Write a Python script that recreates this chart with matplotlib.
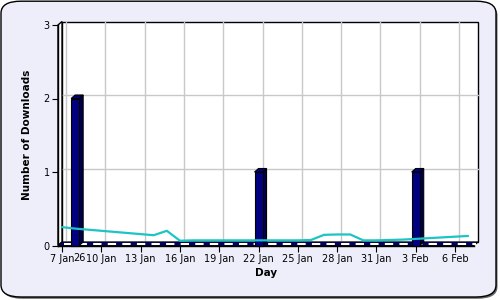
import numpy as np
import matplotlib
matplotlib.use("Agg")
import matplotlib.pyplot as plt
from matplotlib.patches import FancyBboxPatch, Polygon, Rectangle

# data (day numbers: Jan = 1..31, Feb = 32..)
bar_days = [8, 22, 34]
bar_counts = [2, 1, 1]

trend_days = list(range(7, 39))
trend_vals = [0.25, 0.23, 0.215, 0.2, 0.185, 0.17, 0.155, 0.14, 0.2, 0.065,
              0.07, 0.07, 0.07, 0.07, 0.07, 0.07, 0.07, 0.07, 0.07, 0.075,
              0.145, 0.15, 0.15, 0.07, 0.07, 0.075, 0.08, 0.09, 0.1, 0.11,
              0.12, 0.13]

tick_days = [7, 10, 13, 16, 19, 22, 25, 28, 31, 34, 37]
tick_labels = ["7 Jan", "10 Jan", "13 Jan", "16 Jan", "19 Jan", "22 Jan",
               "25 Jan", "28 Jan", "31 Jan", "3 Feb", "6 Feb"]
extra_day = 8.3
extra_label = "26"

navy = "#000080"
teal = "#1EC4C4"
bg = "#EEEEFB"

fig = plt.figure(figsize=(5, 3), dpi=100)
fig.patch.set_facecolor("white")

# rounded panel with shadow
shadow = FancyBboxPatch((0.005, 0.004), 0.99, 0.985, boxstyle="round,pad=0,rounding_size=0.04",
                        transform=fig.transFigure, facecolor="#666666", edgecolor="none", zorder=-2)
panel = FancyBboxPatch((0.002, 0.01), 0.99, 0.986, boxstyle="round,pad=0,rounding_size=0.04",
                       transform=fig.transFigure, facecolor=bg, edgecolor="black", lw=1, zorder=-1)
fig.patches.extend([shadow, panel])

ax = fig.add_axes([58 / 500, (300 - 245.5) / 300, (474 - 58) / 500, (245.5 - 25) / 300])
ax.set_zorder(1)
ax.set_facecolor("none")
xmin, xmax = 6.69, 38.45
ymin, ymax = 0, 3
ax.set_xlim(xmin, xmax)
ax.set_ylim(ymin, ymax)
for s in ax.spines.values():
    s.set_visible(False)

# 3d depth in data units
px_x = (xmax - xmin) / 416
px_y = (ymax - ymin) / 220.5
dx = 4 * px_x
dy = 3.5 * px_y

# back wall
ax.add_patch(Rectangle((xmin + dx, dy), xmax - xmin, ymax, facecolor="white",
                       edgecolor="black", lw=1, clip_on=False, zorder=1))
# left wall
ax.add_patch(Polygon([(xmin, 0), (xmin + dx, dy), (xmin + dx, ymax + dy), (xmin, ymax)],
                     closed=True, facecolor="white", edgecolor="black", lw=1, clip_on=False, zorder=2))

# grid on the back wall
for d in tick_days:
    ax.plot([d + dx, d + dx], [dy, ymax + dy], color="#C8C8C8", lw=1, clip_on=False, zorder=1.5)
for v in [1, 2]:
    ax.plot([xmin + dx, xmax + dx], [v + dy, v + dy], color="#C8C8C8", lw=1, clip_on=False, zorder=1.5)

# floor
ax.add_patch(Polygon([(xmin, 0), (xmax, 0), (xmax + dx, dy), (xmin + dx, dy)], closed=True,
                     facecolor=navy, edgecolor="black", lw=0.8, clip_on=False, zorder=3))
ax.plot([xmin + dx / 2 + 0.3, xmax + dx / 2], [dy / 2, dy / 2], color="white", lw=1.5,
        dashes=(4, 3), clip_on=False, zorder=3.5)

# bars with depth
bw = 8 * px_x
for d, c in zip(bar_days, bar_counts):
    x0 = d - bw / 2
    x1 = d + bw / 2
    ax.add_patch(Polygon([(x1, 0), (x1 + dx, dy), (x1 + dx, c + dy), (x1, c)], closed=True,
                         facecolor="#00004A", edgecolor="black", lw=0.8, zorder=4, clip_on=False))
    ax.add_patch(Polygon([(x0, c), (x1, c), (x1 + dx, c + dy), (x0 + dx, c + dy)], closed=True,
                         facecolor=navy, edgecolor="black", lw=0.8, zorder=4, clip_on=False))
    ax.add_patch(Rectangle((x0, 0), bw, c, facecolor=navy, edgecolor="black", lw=0.8,
                           zorder=4.5, clip_on=False))

# trend line
ax.plot(trend_days, trend_vals, color=teal, lw=1.6, zorder=5, solid_capstyle="round",
        solid_joinstyle="round")

# axes lines
ax.plot([xmin, xmin], [0, ymax], color="black", lw=1, clip_on=False, zorder=6)
ax.plot([xmin, xmax], [0, 0], color="black", lw=1, clip_on=False, zorder=6)

ax.set_xticks(tick_days)
ax.set_xticklabels(tick_labels)
ax.set_xticks([extra_day], [extra_label], minor=True)
ax.tick_params(axis="x", which="minor", length=0, pad=5.5, labelsize=7)
ax.set_yticks([0, 1, 2, 3])
ax.tick_params(axis="both", which="major", direction="out", length=4, width=0.8,
               labelsize=7, colors="black", pad=2)
ax.tick_params(axis="x", which="major", pad=2)

ax.set_xlabel("Day", fontsize=7.5, fontweight="bold", labelpad=3)
ax.set_ylabel("Number of Downloads", fontsize=7.5, fontweight="bold", labelpad=8)

fig.savefig("out.png", dpi=100, facecolor="white")
